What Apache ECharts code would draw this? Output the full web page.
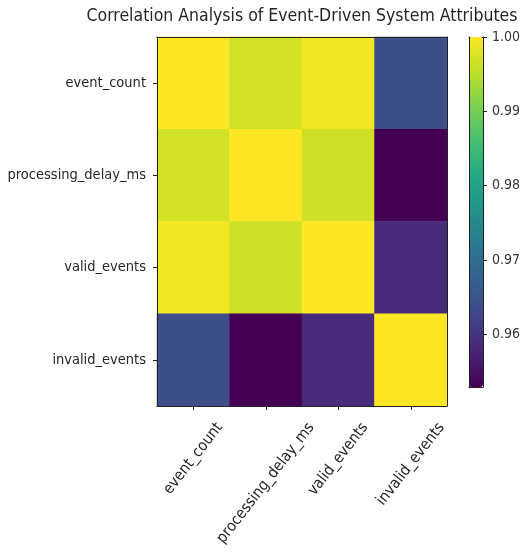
<!DOCTYPE html>
<html>
<head>
<meta charset="utf-8">
<script src="https://cdn.jsdelivr.net/npm/echarts@6/dist/echarts.min.js"></script>
<style>
  html, body { margin: 0; padding: 0; background: #fff; }
  #chart { width: 524px; height: 556px; }
</style>
</head>
<body>
<div id="chart"></div>
<script>
// Attribute names (rows top-to-bottom, columns left-to-right)
const attributes = ['event_count', 'processing_delay_ms', 'valid_events', 'invalid_events'];

// Correlation matrix rows
const rowEventCount      = [1.0000, 0.9968, 0.9992, 0.9640];
const rowProcessingDelay = [0.9968, 1.0000, 0.9966, 0.9529];
const rowValidEvents     = [0.9992, 0.9966, 1.0000, 0.9588];
const rowInvalidEvents   = [0.9640, 0.9529, 0.9588, 1.0000];
const matrixRows = [rowEventCount, rowProcessingDelay, rowValidEvents, rowInvalidEvents];

// Colorbar tick values
const colorbarTicks = [0.96, 0.97, 0.98, 0.99, 1.00];

const titleText = 'Correlation Analysis of Event-Driven System Attributes';

// Viridis colour ramp
const viridis = ['#440154', '#482475', '#414487', '#355f8d', '#2a788e', '#21918c',
                 '#22a884', '#44bf70', '#7ad151', '#bddf26', '#fde725'];

const heatData = [];
matrixRows.forEach((row, r) => row.forEach((v, c) => heatData.push([c, r, v])));
const allValues = matrixRows.flat();
const vMin = Math.min(...allValues);
const vMax = Math.max(...allValues);

const FONT = '"DejaVu Sans Condensed", "DejaVu Sans", sans-serif';
const labelSize = 14.5;
const xLabelSize = 15.5;
const textColor = '#262626';

// Plot box
const plotLeft = 157, plotRight = 447, plotTop = 37, plotBottom = 406;

// Rotated x labels: centre each rotated label's bounding box under its tick
const rotateDeg = 52;
const th = rotateDeg * Math.PI / 180;
const ctx = document.createElement('canvas').getContext('2d');
ctx.font = xLabelSize + 'px ' + FONT;
const labelTop = 420;          // top of rotated label boxes
const lineH = xLabelSize;
const rich = {};
attributes.forEach((name, i) => {
  const L = ctx.measureText(name).width;
  const boxH = L * Math.sin(th) + lineH * Math.cos(th);
  const d = (labelTop - plotBottom) + boxH / 2;
  rich['l' + i] = {
    fontFamily: FONT, fontSize: xLabelSize, color: textColor,
    padding: [2 * d * Math.cos(th), 2 * d * Math.sin(th), 0, 0]
  };
});

const chart = echarts.init(document.getElementById('chart'), null, { renderer: 'canvas' });

const frameLine = { show: true, onZero: false, lineStyle: { color: '#222', width: 1 } };

chart.setOption({
  backgroundColor: '#fff',
  animation: false,
  title: {
    text: titleText,
    left: (plotLeft + plotRight) / 2,
    top: 7,
    padding: 0,
    textAlign: 'center',
    textStyle: { fontFamily: FONT, fontSize: 17.5, fontWeight: 'normal', color: textColor }
  },
  grid: [
    { left: plotLeft, top: plotTop, width: plotRight - plotLeft, height: plotBottom - plotTop },
    { left: 469, top: 37, width: 14, height: 350 }
  ],
  xAxis: [
    {
      type: 'category', gridIndex: 0, data: attributes, position: 'bottom', z: 10,
      axisLine: frameLine,
      axisTick: { show: true, alignWithLabel: true, length: 4, lineStyle: { color: '#222' } },
      splitLine: { show: false },
      axisLabel: {
        interval: 0, rotate: rotateDeg, margin: 0, align: 'center', verticalAlign: 'middle',
        formatter: (v, i) => '{l' + i + '|' + v + '}',
        rich: rich
      }
    },
    {
      type: 'category', gridIndex: 0, data: attributes, position: 'top', z: 10,
      axisLine: frameLine, axisTick: { show: false }, axisLabel: { show: false }
    },
    {
      type: 'value', gridIndex: 1, min: 0, max: 1,
      axisLine: frameLine, axisTick: { show: false }, axisLabel: { show: false }, splitLine: { show: false }
    },
    {
      type: 'value', gridIndex: 1, min: 0, max: 1, position: 'top',
      axisLine: frameLine, axisTick: { show: false }, axisLabel: { show: false }, splitLine: { show: false }
    }
  ],
  yAxis: [
    {
      type: 'category', gridIndex: 0, data: attributes, inverse: true, z: 10,
      axisLine: frameLine,
      axisTick: { show: true, alignWithLabel: true, length: 4, lineStyle: { color: '#222' } },
      splitLine: { show: false },
      axisLabel: { interval: 0, margin: 11, fontFamily: FONT, fontSize: labelSize, color: textColor }
    },
    {
      type: 'category', gridIndex: 0, data: attributes, inverse: true, position: 'right', z: 10,
      axisLine: frameLine, axisTick: { show: false }, axisLabel: { show: false }
    },
    {
      type: 'value', gridIndex: 1, position: 'right', min: vMin, max: vMax, z: 10,
      axisLine: frameLine,
      axisTick: { show: true, length: 4, customValues: colorbarTicks, lineStyle: { color: '#222' } },
      axisLabel: {
        margin: 9, customValues: colorbarTicks, fontFamily: FONT, fontSize: 14, color: '#333',
        formatter: v => v.toFixed(2)
      },
      splitLine: { show: false }
    },
    {
      type: 'value', gridIndex: 1, position: 'left', min: vMin, max: vMax, z: 10,
      axisLine: frameLine, axisTick: { show: false }, axisLabel: { show: false }, splitLine: { show: false }
    }
  ],
  visualMap: {
    type: 'continuous',
    seriesIndex: 0,
    min: vMin, max: vMax,
    calculable: false,
    hoverLink: false,
    realtime: false,
    orient: 'vertical',
    left: 469, top: 37,
    padding: 0,
    itemWidth: 14, itemHeight: 350,
    text: null,
    showLabel: false,
    inRange: { color: viridis }
  },
  series: [
    {
      type: 'heatmap',
      xAxisIndex: 0, yAxisIndex: 0,
      data: heatData,
      itemStyle: { borderWidth: 0 },
      emphasis: { disabled: true }
    }
  ]
});
</script>
</body>
</html>
